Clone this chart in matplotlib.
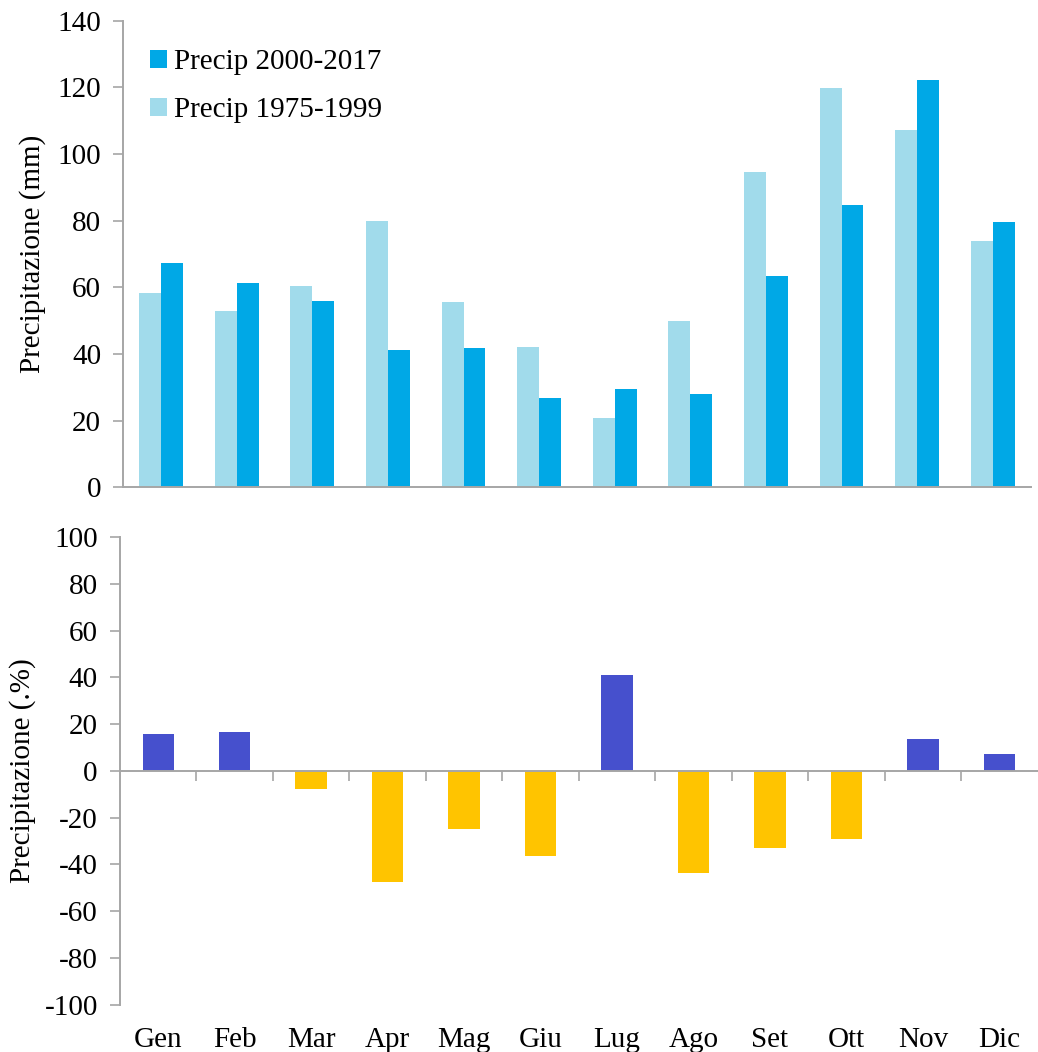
import matplotlib
matplotlib.use('Agg')
import matplotlib.pyplot as plt
import numpy as np

mesi = ['Gen', 'Feb', 'Mar', 'Apr', 'Mag', 'Giu', 'Lug', 'Ago', 'Set', 'Ott', 'Nov', 'Dic']
precip_1975_1999 = [58.4, 52.8, 60.3, 79.8, 55.5, 42.2, 20.8, 50.0, 94.5, 119.9, 107.2, 73.9]
precip_2000_2017 = [67.4, 61.4, 55.8, 41.2, 41.8, 26.8, 29.4, 27.9, 63.5, 84.7, 122.2, 79.5]
variazione = [15.7, 16.8, -7.7, -47.6, -24.8, -36.4, 40.8, -43.8, -32.8, -29.2, 13.6, 7.3]

plt.rcParams['font.family'] = ['Liberation Serif', 'DejaVu Serif']
plt.rcParams['font.size'] = 21
plt.rcParams['axes.unicode_minus'] = False

grigio = '#a6a6a6'
c_chiaro = '#a1dbeb'
c_scuro = '#00a8e6'
c_pos = '#4650cd'
c_neg = '#ffc400'

fig = plt.figure(figsize=(10.38, 10.52), dpi=100)
ax1 = fig.add_axes([0.1188, 0.5368, 0.874, 0.4435])
ax2 = fig.add_axes([0.1156, 0.045, 0.884, 0.4445])

x = np.arange(len(mesi))
w = 0.29

# grafico superiore
ax1.bar(x - w / 2, precip_1975_1999, w, color=c_chiaro, label='Precip 1975-1999', linewidth=0)
ax1.bar(x + w / 2, precip_2000_2017, w, color=c_scuro, label='Precip 2000-2017', linewidth=0)
ax1.set_xlim(-0.5, 11.5)
ax1.set_ylim(0, 140)
ax1.set_yticks(range(0, 141, 20))
ax1.set_xticks([])
ax1.set_ylabel('Precipitazione (mm)', labelpad=8)
for s in ['top', 'right']:
    ax1.spines[s].set_visible(False)
for s in ['left', 'bottom']:
    ax1.spines[s].set_color(grigio)
    ax1.spines[s].set_linewidth(1.4)
ax1.tick_params(axis='y', color=grigio, width=1.2, length=7, pad=9)

h, l = ax1.get_legend_handles_labels()
ax1.legend(h[::-1], l[::-1], loc='upper left', bbox_to_anchor=(0.0, 0.995),
           frameon=False, handlelength=0.6, handleheight=0.6, handletextpad=0.25,
           labelspacing=0.75, fontsize=21)

# grafico inferiore
colori = [c_pos if v >= 0 else c_neg for v in variazione]
ax2.bar(x, variazione, 0.41, color=colori, linewidth=0)
ax2.set_xlim(-0.5, 11.5)
ax2.set_ylim(-100, 100)
ax2.set_yticks(range(-100, 101, 20))
ax2.set_ylabel('Precipitazione (.%)', labelpad=6)
for s in ['top', 'right']:
    ax2.spines[s].set_visible(False)
ax2.spines['bottom'].set_position(('data', 0))
for s in ['left', 'bottom']:
    ax2.spines[s].set_color(grigio)
    ax2.spines[s].set_linewidth(1.4)
ax2.set_xticks(x[:-1] + 0.5)
ax2.set_xticklabels([])
ax2.tick_params(axis='x', color=grigio, width=1.2, length=7, direction='out')
ax2.tick_params(axis='y', color=grigio, width=1.2, length=7, pad=9)

sec = ax2.secondary_xaxis('bottom')
sec.set_xticks(x)
sec.set_xticklabels(mesi)
sec.tick_params(length=0, pad=16)
sec.spines['bottom'].set_visible(False)

fig.savefig('out.png', dpi=100)
